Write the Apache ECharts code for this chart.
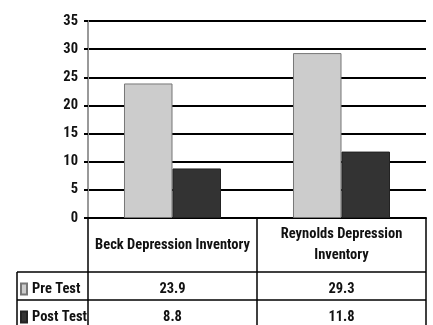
<!DOCTYPE html>
<html>
<head>
<meta charset="utf-8">
<script src="https://cdn.jsdelivr.net/npm/echarts@6/dist/echarts.min.js"></script>
<style>
  html, body { margin: 0; padding: 0; background: #fff; }
  #chart { width: 433px; height: 325px; }
</style>
</head>
<body>
<div id="chart"></div>
<script>
// Depression inventory scores before and after the programme
const categories = ['Beck Depression Inventory', 'Reynolds Depression\nInventory'];
const seriesNames = ['Pre Test', 'Post Test'];
const preTest = [23.9, 29.3];
const postTest = [8.8, 11.8];
const yTicks = [0, 5, 10, 15, 20, 25, 30, 35];

const FONT = "'Roboto Condensed', 'Open Sans Condensed', 'Liberation Sans', sans-serif";
const FS = 14.5;
const INK = '#111';
const PRE_FILL = '#cccccc';
const POST_FILL = '#333333';

// plot area and data table geometry
const GRID = { left: 88, right: 7, top: 21, bottom: 107 };
const W = 433, H = 325;
const PLOT_RIGHT = W - GRID.right;
const AXIS_Y = H - GRID.bottom;
const TABLE_LEFT = 17;
const ROW_LINES = [272, 300];
const ROW_TEXT_Y = [289, 317];

const chart = echarts.init(document.getElementById('chart'), null, { renderer: 'canvas' });

// one legend entry per table row
const legends = seriesNames.map((name, r) => ({
  left: 20,
  top: ROW_TEXT_Y[r] - 7.5,
  padding: 0,
  itemWidth: 6,
  itemHeight: 11,
  icon: 'rect',
  selectedMode: false,
  textStyle: { fontFamily: FONT, fontWeight: 'bold', fontSize: FS, lineHeight: 15, color: INK },
  data: [name]
}));

chart.setOption({
  animation: false,
  backgroundColor: '#fff',
  textStyle: { fontFamily: FONT },
  grid: GRID,
  legend: legends,
  xAxis: {
    type: 'category',
    data: categories,
    axisLine: { show: true, lineStyle: { color: '#000', width: 2 } },
    axisTick: { show: false },
    axisLabel: {
      interval: 0,
      margin: 27,
      verticalAlign: 'middle',
      fontFamily: FONT,
      fontWeight: 'bold',
      fontSize: FS,
      lineHeight: 21,
      color: INK
    }
  },
  yAxis: {
    type: 'value',
    min: yTicks[0],
    max: yTicks[yTicks.length - 1],
    interval: yTicks[1] - yTicks[0],
    axisLine: { show: true, lineStyle: { color: '#999', width: 2 } },
    axisTick: { show: true, length: 4, lineStyle: { color: '#000', width: 2 } },
    splitLine: { show: true, lineStyle: { color: '#000', width: 2 } },
    axisLabel: {
      margin: 10,
      fontFamily: FONT,
      fontWeight: 'bold',
      fontSize: FS,
      color: INK
    }
  },
  series: [
    {
      name: seriesNames[0],
      type: 'bar',
      data: preTest,
      barGap: '0%',
      barCategoryGap: '42.6%',
      itemStyle: { color: PRE_FILL, borderColor: '#777', borderWidth: 1 }
    },
    {
      name: seriesNames[1],
      type: 'bar',
      data: postTest,
      itemStyle: { color: POST_FILL, borderColor: '#222', borderWidth: 1 }
    }
  ]
});

// data table underneath the plot
const centers = categories.map((c, i) => chart.convertToPixel({ xAxisIndex: 0 }, i));
const band = centers[1] - centers[0];
const colEdges = [GRID.left, centers[0] + band / 2, PLOT_RIGHT];
const rowValues = [preTest, postTest];

const lineStyle = { stroke: '#000', lineWidth: 1.5 };
const graphics = [];

// column rules run from the axis down through the table
colEdges.forEach(x => {
  graphics.push({ type: 'line', shape: { x1: x, y1: AXIS_Y, x2: x, y2: H }, style: lineStyle, z: 10 });
});
graphics.push({ type: 'line', shape: { x1: TABLE_LEFT, y1: ROW_LINES[0], x2: TABLE_LEFT, y2: H }, style: lineStyle, z: 10 });
ROW_LINES.forEach(y => {
  graphics.push({ type: 'line', shape: { x1: TABLE_LEFT, y1: y, x2: PLOT_RIGHT, y2: y }, style: lineStyle, z: 10 });
});

rowValues.forEach((vals, r) => {
  vals.forEach((v, c) => {
    graphics.push({
      type: 'text',
      x: centers[c],
      y: ROW_TEXT_Y[r],
      z: 10,
      style: {
        text: v.toFixed(1),
        fontFamily: FONT,
        fontWeight: 'bold',
        fontSize: FS,
        fill: INK,
        align: 'center',
        verticalAlign: 'middle'
      }
    });
  });
});

chart.setOption({ graphic: graphics });
</script>
</body>
</html>
